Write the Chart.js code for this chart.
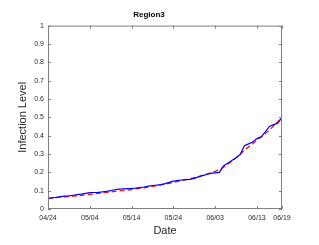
<!DOCTYPE html>
<html>
<head>
<meta charset="utf-8">
<script src="https://cdn.jsdelivr.net/npm/chart.js@4"></script>
<style>
  html, body { margin: 0; padding: 0; background: #fff; }
  #wrap { width: 319px; height: 245px; }
</style>
</head>
<body>
<div id="wrap"><canvas id="chart" width="319" height="245"></canvas></div>
<script>
// days since 04/24, one value per day
const tickDays = [0, 10, 20, 30, 40, 50, 56]
const tickLabels = ["04/24", "05/04", "05/14", "05/24", "06/03", "06/13", "06/19"]

const observed = [
  0.058, 0.061, 0.064, 0.067, 0.070, 0.072, 0.075, 0.078, 0.081, 0.085,
  0.089, 0.090, 0.091, 0.093, 0.096, 0.100, 0.105, 0.108, 0.110, 0.111,
  0.112, 0.114, 0.117, 0.120, 0.125, 0.128, 0.130, 0.133, 0.138, 0.145,
  0.152, 0.155, 0.158, 0.160, 0.162, 0.167, 0.175, 0.182, 0.188, 0.194,
  0.197, 0.200, 0.235, 0.250, 0.265, 0.280, 0.297, 0.345, 0.355, 0.365,
  0.384, 0.393, 0.420, 0.450, 0.460, 0.468, 0.500
]

const fitted = [
  0.058, 0.060, 0.062, 0.064, 0.066, 0.068, 0.070, 0.072, 0.074, 0.077,
  0.080, 0.082, 0.085, 0.087, 0.090, 0.093, 0.096, 0.099, 0.101, 0.103,
  0.106, 0.109, 0.112, 0.115, 0.119, 0.123, 0.127, 0.131, 0.135, 0.140,
  0.145, 0.150, 0.155, 0.160, 0.165, 0.171, 0.177, 0.184, 0.191, 0.198,
  0.205, 0.215, 0.228, 0.245, 0.260, 0.280, 0.300, 0.320, 0.338, 0.356,
  0.375, 0.393, 0.411, 0.430, 0.453, 0.476, 0.500
]

const axisColor = "#808080"
const textColor = "#262626"

const toPoints = arr => arr.map((v, i) => ({ x: i, y: v }))

/* box + inward ticks like matlab */
const boxPlugin = {
  id: "box",
  afterDraw(chart) {
    const { ctx, chartArea: a, scales } = chart
    ctx.save()
    ctx.strokeStyle = axisColor
    ctx.lineWidth = 1
    ctx.strokeRect(a.left + 0.5, a.top + 0.5, a.right - a.left - 1, a.bottom - a.top - 1)
    ctx.beginPath()
    scales.x.ticks.forEach(t => {
      const px = Math.round(scales.x.getPixelForValue(t.value)) + 0.5
      ctx.moveTo(px, a.bottom); ctx.lineTo(px, a.bottom - 3)
      ctx.moveTo(px, a.top); ctx.lineTo(px, a.top + 3)
    })
    scales.y.ticks.forEach(t => {
      const py = Math.round(scales.y.getPixelForValue(t.value)) + 0.5
      ctx.moveTo(a.left, py); ctx.lineTo(a.left + 3, py)
      ctx.moveTo(a.right, py); ctx.lineTo(a.right - 3, py)
    })
    ctx.stroke()
    ctx.restore()
  }
}

new Chart(document.getElementById("chart"), {
  type: "line",
  data: {
    datasets: [{
      data: toPoints(observed),
      borderColor: "#0000ff",
      borderWidth: 1.2,
      pointRadius: 0,
      tension: 0
    }, {
      data: toPoints(fitted),
      borderColor: "#ff0000",
      borderWidth: 1.2,
      borderDash: [5, 3],
      pointRadius: 0,
      tension: 0
    }]
  },
  options: {
    responsive: false,
    animation: false,
    layout: { padding: { top: 0, right: 37, left: 16, bottom: 7 } },
    plugins: {
      legend: { display: false },
      tooltip: { enabled: false },
      title: {
        display: true,
        text: "Region3",
        color: "#000",
        font: { family: "Liberation Sans", size: 8, weight: "bold" },
        padding: { top: 10, bottom: 6 }
      }
    },
    scales: {
      x: {
        type: "linear",
        min: 0,
        max: 56,
        afterBuildTicks: s => { s.ticks = tickDays.map(v => ({ value: v })) },
        afterFit: s => { s.height = 29 },
        grid: { display: false, drawTicks: false },
        border: { display: false },
        ticks: {
          color: textColor,
          padding: 5,
          maxRotation: 0,
          autoSkip: false,
          font: { family: "Liberation Sans", size: 7 },
          callback: v => tickLabels[tickDays.indexOf(v)]
        },
        title: {
          display: true,
          text: "Date",
          color: textColor,
          font: { family: "Liberation Sans", size: 11 },
          padding: { top: 2, bottom: 0 }
        }
      },
      y: {
        min: 0,
        max: 1,
        afterFit: s => { s.width = 32 },
        grid: { display: false, drawTicks: false },
        border: { display: false },
        ticks: {
          stepSize: 0.1,
          color: textColor,
          padding: 4,
          font: { family: "Liberation Sans", size: 7 },
          callback: v => String(Math.round(v * 10) / 10)
        },
        title: {
          display: true,
          text: "Infection Level",
          color: textColor,
          font: { family: "Liberation Sans", size: 11 },
          padding: { top: 0, bottom: 4 }
        }
      }
    }
  },
  plugins: [boxPlugin]
})
</script>
</body>
</html>
